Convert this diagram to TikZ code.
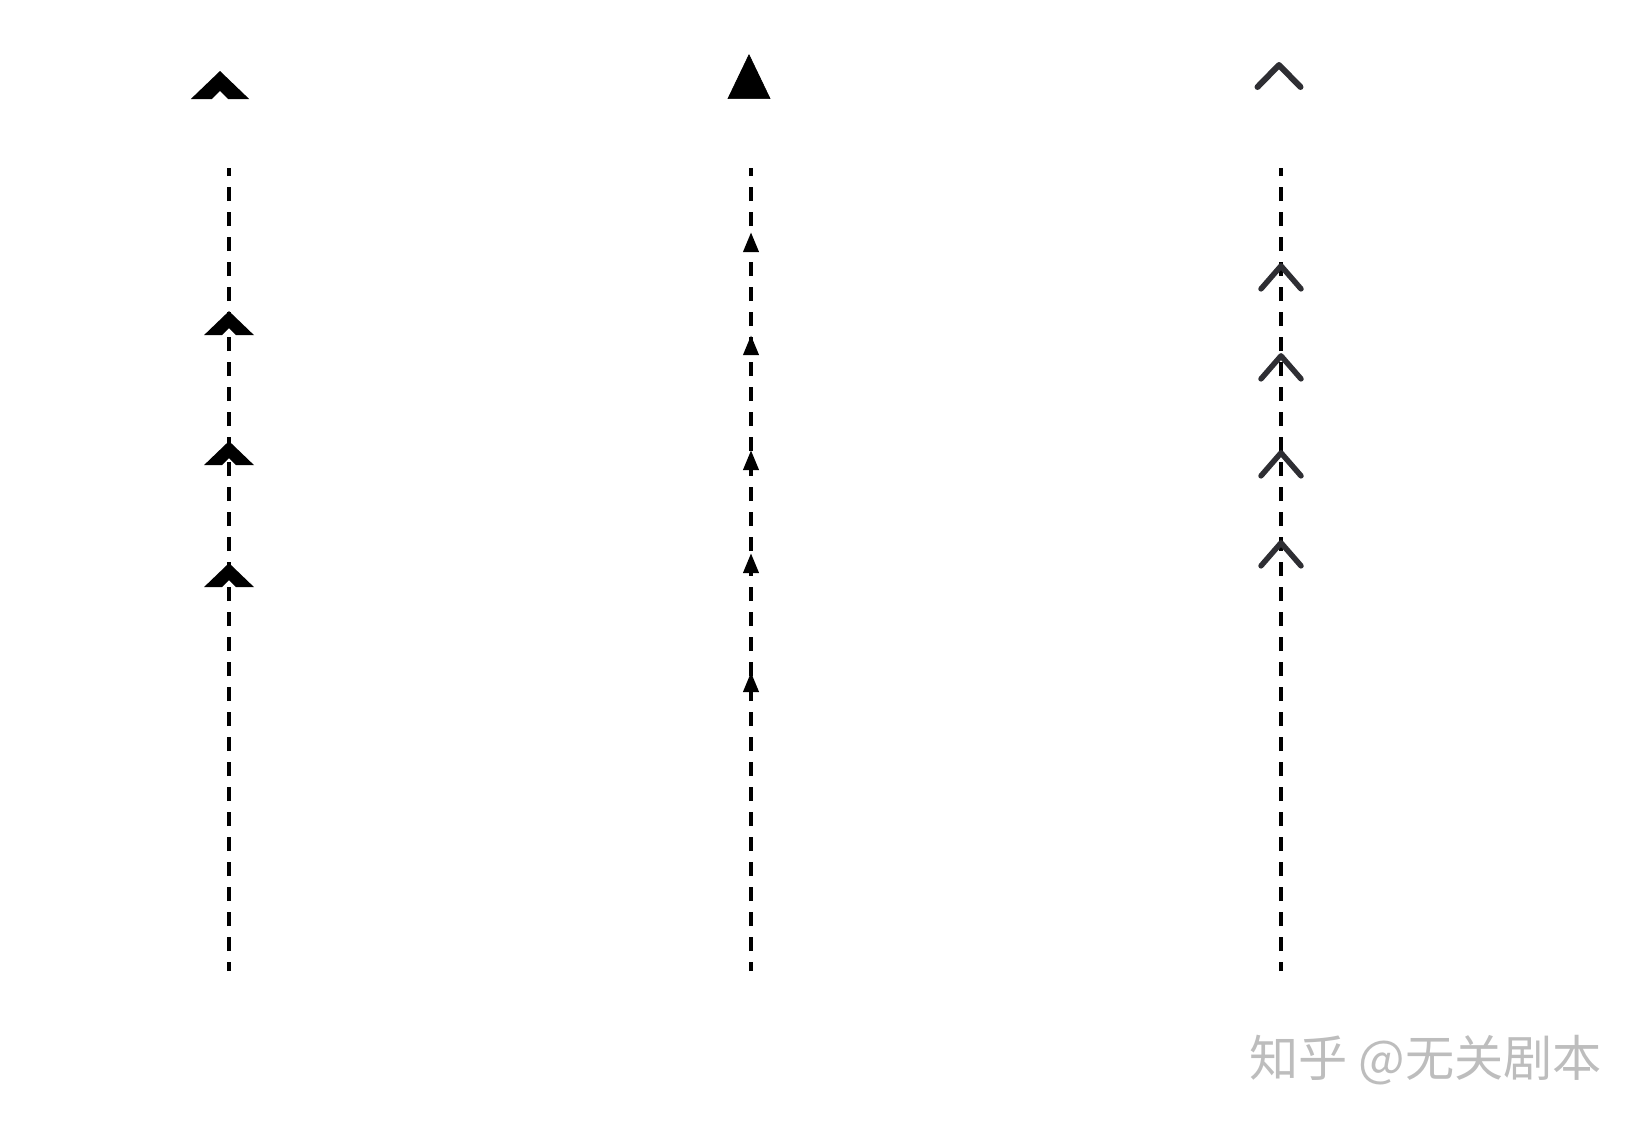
\documentclass[tikz,border=0pt]{standalone}
\usepackage{fontspec}
\usepackage{tikz}
\newfontfamily\cjk{Noto Sans CJK SC}
\definecolor{chev}{HTML}{2E2E33}
\definecolor{wmgray}{HTML}{BDBDBD}
\usetikzlibrary{arrows.meta}
\usetikzlibrary{decorations.markings}
% thick filled chevron, tip at the origin, pointing along x
\newcommand{\thickchev}[1]{\fill[scale=#1] (0,0) -- (-24,25) -- (-24,7) -- (-17,0) -- (-24,-7) -- (-24,-25) -- cycle;}

\begin{document}
\begin{tikzpicture}[x=0.02cm, y=-0.02cm]
    \tikzset{
      dashline/.style={line width=0.08cm, dash pattern=on 0.28cm off 0.22cm, dash phase=0.1cm},
      bigtri/.tip={Triangle[length=0.9cm, width=0.86cm]},
      smalltri/.tip={Triangle[length=0.4cm, width=0.3cm]},
      bigbarb/.tip={Straight Barb[length=0.44cm, width=0.86cm, line width=0.12cm, round, color=chev]},
      smallbarb/.tip={Straight Barb[length=0.46cm, width=0.8cm, line width=0.11cm, round, color=chev]}}
    \useasboundingbox (0,0) rectangle (1646,1127);

    % ends of the three dashed lines
    \coordinate (l0) at (229,971);
    \coordinate (l1) at (229,168);
    \coordinate (m0) at (751,971);
    \coordinate (m1) at (751,168);
    \coordinate (r0) at (1281,971);
    \coordinate (r1) at (1281,168);

    % the loose tips on top
    \coordinate (la) at (220,71);
    \coordinate (lb) at (220,110);
    \coordinate (ma) at (749,54);
    \coordinate (mb) at (749,110);
    \coordinate (ra) at (1279,62);
    \coordinate (rb) at (1279,110);

    \path[decorate, decoration={markings, mark=at position 1 with {\thickchev{1.17}}}] (lb) -- (la);
    \path[decorate, decoration={markings, mark=at position 1 with {\arrow{bigtri}}}] (mb) -- (ma);
    \path[decorate, decoration={markings, mark=at position 1 with {\arrow{bigbarb}}}] (rb) -- (ra);

    \draw[dashline, postaction={decorate, decoration={markings,
      mark=at position 8.16cm with {\thickchev{1}},
      mark=at position 10.6cm with {\thickchev{1}},
      mark=at position 13.2cm with {\thickchev{1}}}}] (l0) -- (l1);
    \draw[dashline, postaction={decorate, decoration={markings,
      mark=at position 5.98cm with {\arrow{smalltri}},
      mark=at position 8.36cm with {\arrow{smalltri}},
      mark=at position 10.42cm with {\arrow{smalltri}},
      mark=at position 12.72cm with {\arrow{smalltri}},
      mark=at position 14.78cm with {\arrow{smalltri}}}}] (m0) -- (m1);
    \draw[dashline, postaction={decorate, decoration={markings,
      mark=at position 8.62cm with {\arrow{smallbarb}},
      mark=at position 10.42cm with {\arrow{smallbarb}},
      mark=at position 12.36cm with {\arrow{smallbarb}},
      mark=at position 14.16cm with {\arrow{smallbarb}}}}] (r0) -- (r1);

    \node[anchor=west, inner sep=0, text=wmgray, font=\cjk\fontsize{28}{30}\selectfont] (wm) at (1249,1060) {知乎 @无关剧本};
\end{tikzpicture}
\end{document}
